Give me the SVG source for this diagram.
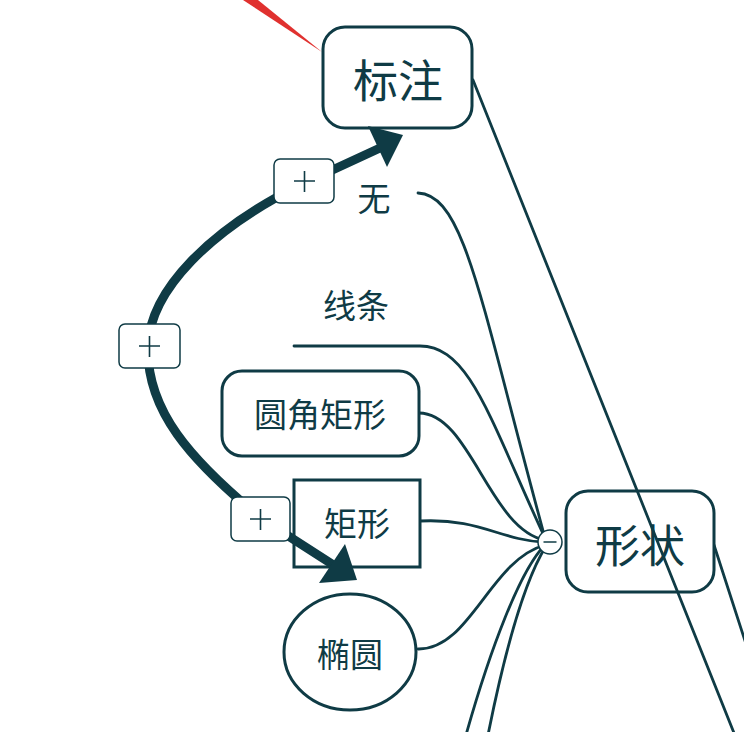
<svg xmlns="http://www.w3.org/2000/svg" width="744" height="732" viewBox="0 0 744 732">
<style>
.t{font-family:"Noto Sans CJK SC","Noto Sans",sans-serif;fill:#0f3b45;text-anchor:middle;dominant-baseline:central}
.box{fill:#fff;stroke:#0f3b45;stroke-width:3}
.c{fill:none;stroke:#0f3b45;stroke-width:2.8;stroke-linecap:round}
.pb{fill:#fff;stroke:#0f3b45;stroke-width:1.5}
.pl{stroke:#0f3b45;stroke-width:1.6}
</style>
<rect width="744" height="732" fill="#fff"/>
<polygon points="243,0 258,0 322,52" fill="#e0312f"/>
<g id="connectors">
<path class="c" d="M714,545 L746,644" stroke-width="3.5"/>
<path class="c" d="M418,193 C465,195 480,300 545,538"/>
<path class="c" d="M294,346 L420,346 C470,346 490,420 545,538"/>
<path class="c" d="M419,413 C470,413 490,530 545,540"/>
<path class="c" d="M420,521 C480,518 500,540 543,542"/>
<path class="c" d="M418,649 C470,650 490,560 545,545"/>
<path class="c" d="M545,545 C520,570 490,650 466,735"/>
<path class="c" d="M546,546 C525,580 505,650 488,735"/>
</g>
<g id="biaozhu"><rect class="box" x="323" y="27" width="149" height="101" rx="22"/><text class="t" x="398" y="78" font-size="45">标注</text></g>
<g id="xingzhuang"><rect class="box" x="566" y="491" width="148" height="101" rx="22"/><text class="t" x="640" y="543" font-size="45">形状</text></g>
<g id="collapse"><circle cx="550" cy="542" r="12" fill="#fff" stroke="#0f3b45" stroke-width="1.5"/><line x1="543.5" y1="542" x2="556.5" y2="542" stroke="#0f3b45" stroke-width="1.5"/></g>
<g id="wu"><text class="t" x="374" y="197" font-size="33">无</text></g>
<g id="xiantiao"><text class="t" x="356" y="304" font-size="33">线条</text></g>
<g id="yuanjiao"><rect class="box" x="222" y="371" width="197" height="85" rx="20"/><text class="t" x="320" y="413" font-size="33">圆角矩形</text></g>
<g id="juxing"><rect class="box" x="294" y="480" width="126" height="87"/><text class="t" x="357" y="522" font-size="33">矩形</text></g>
<g id="tuoyuan"><ellipse class="box" cx="350" cy="652" rx="66" ry="58"/><text class="t" x="350" y="653" font-size="33">椭圆</text></g>
<g id="relations">
<path class="c" d="M473,80 L736,738" stroke-width="3.5"/>
<path fill="none" stroke="#0f3b45" stroke-width="9" d="M380,148 L300,185 C210,230 150,290 148,346 C146,410 190,460 262,519 L335,566"/>
<polygon points="403,135 368,126 387,167" fill="#0f3b45"/>
<polygon points="357,580 345,544 319,583" fill="#0f3b45"/>
</g>
<g id="plus1"><rect class="pb" x="274" y="159" width="60" height="44" rx="6"/><path class="pl" d="M294,181 H315 M304.5,171 V192"/></g>
<g id="plus2"><rect class="pb" x="119" y="324" width="61" height="44" rx="6"/><path class="pl" d="M139,346 H160 M149.5,336 V357"/></g>
<g id="plus3"><rect class="pb" x="231" y="497" width="59" height="44" rx="6"/><path class="pl" d="M250,519 H271 M260.5,509 V530"/></g>
</svg>
